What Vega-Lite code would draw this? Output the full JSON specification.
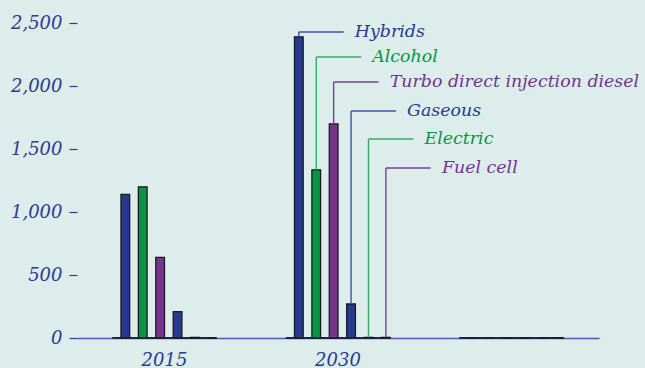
{
  "$schema": "https://vega.github.io/schema/vega-lite/v6.json",
  "width": 522,
  "height": 315,
  "autosize": "none",
  "padding": {"left": 77, "top": 23, "right": 46, "bottom": 30},
  "background": "#dcedec",
  "config": {
    "view": {"stroke": null},
    "font": "DejaVu Serif",
    "axisX": {
      "labelAngle": 0, "ticks": false, "labelPadding": 13,
      "domainColor": "#4a5db2", "domainWidth": 1.6,
      "labelFont": "DejaVu Serif", "labelFontStyle": "italic", "labelFontSize": 18,
      "labelColor": "#2e3b8e"
    },
    "axisY": {
      "domain": false, "grid": false, "tickSize": 8, "tickWidth": 1.2,
      "tickColor": "#2e3b8e", "labelPadding": 7,
      "labelFont": "DejaVu Serif", "labelFontStyle": "italic", "labelFontSize": 18,
      "labelColor": "#2e3b8e"
    }
  },
  "datasets": {
    "groups": [{"year": "2015"}, {"year": "2030"}, {"year": "2045"}],
    "bars": [
      {"year": "2015", "series": "Hybrids", "value": 1140},
      {"year": "2015", "series": "Alcohol", "value": 1200},
      {"year": "2015", "series": "Turbo direct injection diesel", "value": 640},
      {"year": "2015", "series": "Gaseous", "value": 210},
      {"year": "2015", "series": "Electric", "value": 5},
      {"year": "2015", "series": "Fuel cell", "value": 0},
      {"year": "2030", "series": "Hybrids", "value": 2390},
      {"year": "2030", "series": "Alcohol", "value": 1335},
      {"year": "2030", "series": "Turbo direct injection diesel", "value": 1700},
      {"year": "2030", "series": "Gaseous", "value": 270},
      {"year": "2030", "series": "Electric", "value": 5},
      {"year": "2030", "series": "Fuel cell", "value": 5},
      {"year": "2045", "series": "Hybrids", "value": 0},
      {"year": "2045", "series": "Alcohol", "value": 0},
      {"year": "2045", "series": "Turbo direct injection diesel", "value": 0},
      {"year": "2045", "series": "Gaseous", "value": 0},
      {"year": "2045", "series": "Electric", "value": 0},
      {"year": "2045", "series": "Fuel cell", "value": 0}
    ],
    "labels": [
      {"series": "Hybrids", "level": 2429},
      {"series": "Alcohol", "level": 2230},
      {"series": "Turbo direct injection diesel", "level": 2032},
      {"series": "Gaseous", "level": 1802},
      {"series": "Electric", "level": 1579},
      {"series": "Fuel cell", "level": 1349}
    ]
  },
  "layer": [
    {
      "data": {"name": "groups"},
      "mark": {"type": "bar", "fill": "#1c2456", "stroke": "#1c2456", "strokeWidth": 2},
      "encoding": {
        "x": {
          "field": "year", "type": "nominal", "sort": null,
          "scale": {"type": "band", "paddingInner": 0.3977, "paddingOuter": 0.2032, "align": 0.5},
          "axis": {"values": ["2015", "2030"], "title": null}
        },
        "y": {
          "datum": 0, "type": "quantitative",
          "scale": {"domain": [0, 2500], "nice": false},
          "axis": {"values": [0, 500, 1000, 1500, 2000, 2500], "format": ",.0f", "title": null}
        },
        "y2": {"datum": 0}
      }
    },
    {
      "data": {"name": "bars"},
      "mark": {"type": "bar", "stroke": "#1b1b1b", "strokeWidth": 1.3},
      "encoding": {
        "x": {"field": "year", "type": "nominal", "sort": null, "axis": {"title": null}},
        "xOffset": {
          "field": "series", "type": "nominal", "sort": null,
          "scale": {
            "domain": ["Hybrids", "Alcohol", "Turbo direct injection diesel", "Gaseous", "Electric", "Fuel cell"],
            "paddingInner": 0.5, "paddingOuter": 0.25, "align": 1
          }
        },
        "y": {"field": "value", "type": "quantitative", "axis": {"title": null}},
        "fill": {
          "field": "series", "type": "nominal", "legend": null,
          "scale": {
            "domain": ["Hybrids", "Alcohol", "Turbo direct injection diesel", "Gaseous", "Electric", "Fuel cell"],
            "range": ["#263a8f", "#0a9447", "#76328f", "#263a8f", "#0a9447", "#76328f"]
          }
        }
      }
    },
    {
      "data": {"name": "bars"},
      "transform": [
        {"filter": "datum.year == '2030'"},
        {"lookup": "series", "from": {"data": {"name": "labels"}, "key": "series", "fields": ["level"]}}
      ],
      "mark": {"type": "rule", "strokeWidth": 1.4},
      "encoding": {
        "x": {"field": "year", "type": "nominal", "sort": null, "axis": {"title": null}},
        "xOffset": {"field": "series", "type": "nominal", "sort": null},
        "y": {"field": "value", "type": "quantitative", "axis": {"title": null}},
        "y2": {"field": "level"},
        "stroke": {
          "field": "series", "type": "nominal", "legend": null,
          "scale": {
            "domain": ["Hybrids", "Alcohol", "Turbo direct injection diesel", "Gaseous", "Electric", "Fuel cell"],
            "range": ["#3f52b4", "#3aa865", "#7e3e9f", "#3f52b4", "#3aa865", "#7e3e9f"]
          }
        }
      }
    },
    {
      "data": {"name": "labels"},
      "mark": {"type": "point", "shape": "M0,0H2", "size": 2025, "filled": false, "strokeWidth": 1.4, "opacity": 1},
      "encoding": {
        "x": {"datum": "2030", "type": "nominal", "axis": {"title": null}},
        "xOffset": {"field": "series", "type": "nominal", "sort": null},
        "y": {"field": "level", "type": "quantitative", "axis": {"title": null}},
        "stroke": {"field": "series", "type": "nominal", "legend": null}
      }
    },
    {
      "data": {"name": "labels"},
      "mark": {"type": "text", "align": "left", "baseline": "middle", "dx": 56, "font": "DejaVu Serif", "fontStyle": "italic", "fontSize": 17.4},
      "encoding": {
        "x": {"datum": "2030", "type": "nominal", "axis": {"title": null}},
        "xOffset": {"field": "series", "type": "nominal", "sort": null},
        "y": {"field": "level", "type": "quantitative", "axis": {"title": null}},
        "text": {"field": "series"},
        "fill": {"field": "series", "type": "nominal", "legend": null}
      }
    }
  ]
}
